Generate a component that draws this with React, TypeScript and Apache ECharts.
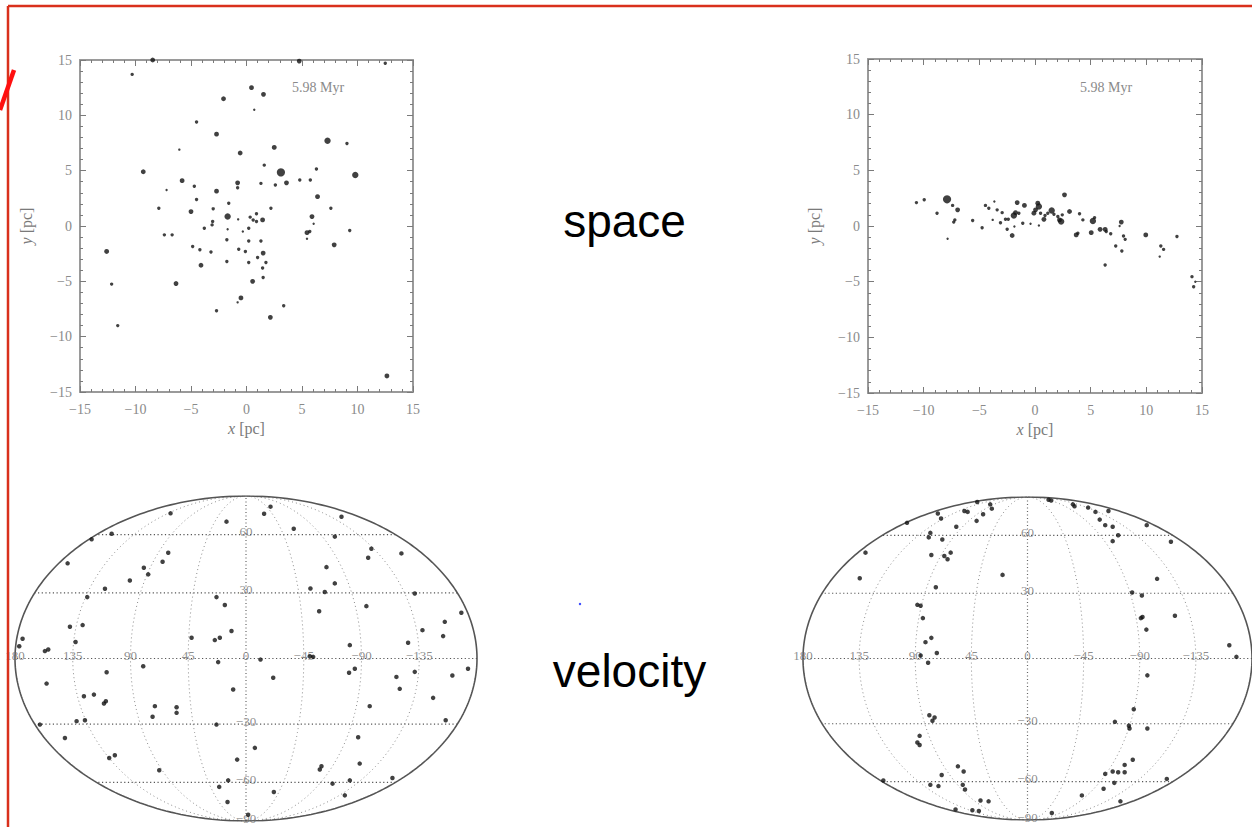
import React, { useEffect, useRef } from "react";
import * as echarts from "echarts";

// Star positions at 5.98 Myr: [x (pc), y (pc), mass class 1..5]
const spaceLeft: number[][] = [
  [-8.45, 15, 3], [4.75, 14.9, 3], [12.5, 14.7, 2], [-10.3, 13.7, 2], [0.45, 12.5, 3], [1.53, 11.9, 3],
  [-2.07, 11.5, 3], [0.7, 10.5, 1], [-4.5, 9.4, 2], [-2.7, 8.3, 3], [7.3, 7.7, 4], [9.05, 7.45, 2],
  [2.5, 7.1, 3], [-6.05, 6.9, 1], [-0.57, 6.6, 3], [1.6, 5.5, 2], [3.1, 4.85, 5], [6.3, 5.15, 2],
  [9.8, 4.6, 4], [-9.3, 4.9, 3], [-5.8, 4.1, 3], [4.8, 4.15, 2], [5.75, 4.15, 2], [3.6, 3.9, 3],
  [2.6, 3.7, 2], [1.3, 3.85, 2], [-0.8, 3.9, 3], [-0.8, 3.45, 2], [-4.7, 3.6, 2], [-7.2, 3.25, 1],
  [-2.7, 3.15, 3], [-4.5, 2.4, 2], [6.4, 2.65, 3], [-1.6, 2.05, 2], [-7.9, 1.6, 2], [2.2, 1.6, 2],
  [7.6, 1.6, 2], [-5.0, 1.3, 3], [-3.0, 1.55, 2], [-1.7, 0.85, 4], [-0.75, 0.6, 1], [0.33, 0.8, 2],
  [0.6, 0.55, 2], [0.9, 1.1, 2], [0.9, 0.4, 2], [1.45, 0.55, 3], [5.9, 0.85, 3], [6.05, 0.2, 1],
  [-3.05, 0.4, 2], [-3.1, 0.1, 2], [-3.8, -0.2, 2], [-1.7, -0.3, 1], [0.2, -0.2, 2], [-0.33, -0.5, 1],
  [-7.4, -0.8, 2], [-6.7, -0.8, 2], [5.45, -0.6, 3], [5.7, -0.5, 2], [5.45, -1.15, 1], [9.3, -0.4, 2],
  [-1.77, -1.25, 2], [0.2, -1.35, 2], [1.3, -1.35, 2], [7.9, -1.7, 3], [-4.85, -1.85, 2], [-4.2, -2.15, 2],
  [-3.2, -2.35, 2], [-0.7, -2.1, 2], [-0.1, -2.3, 2], [-12.6, -2.3, 3], [1.5, -2.45, 3], [1.0, -2.85, 2],
  [1.75, -3.3, 2], [-1.77, -3.2, 2], [0.2, -3.3, 2], [-4.1, -3.55, 3], [1.45, -3.8, 2], [1.5, -4.65, 2],
  [-6.35, -5.2, 3], [0.55, -5.0, 3], [-12.15, -5.25, 2], [-0.5, -6.5, 3], [-0.8, -6.9, 1], [-2.7, -7.65, 2],
  [3.35, -7.2, 2], [2.15, -8.25, 3], [-11.6, -9.0, 2], [12.65, -13.55, 3],
];

const spaceRight: number[][] = [
  [-10.65, 2.1, 2], [-9.95, 2.35, 2], [-8.8, 1.15, 2], [-7.9, 2.4, 5], [-7.4, 1.85, 2], [-6.95, 1.45, 3],
  [-7.2, 0.55, 2], [-7.3, 0.35, 2], [-7.85, -1.15, 1], [-5.6, 0.5, 2], [-4.75, -0.15, 2], [-4.45, 1.85, 2],
  [-4.15, 1.6, 2], [-3.65, 2.2, 1], [-3.8, 0.55, 1], [-3.4, 1.45, 2], [-2.95, 1.2, 2], [-3.1, 0.3, 2],
  [-2.65, 0.6, 2], [-2.4, 0.6, 2], [-2.5, -0.3, 2], [-2.05, -0.85, 3], [-1.9, 0.95, 4], [-1.75, 1.2, 3],
  [-1.6, 2.1, 3], [-1.45, 1.15, 2], [-1.1, 0.25, 2], [-1.85, -0.05, 1], [-0.95, 1.85, 3], [-0.4, 0.2, 1],
  [-0.1, 1.15, 3], [0.25, 2.05, 3], [0.35, 1.75, 4], [0.05, 1.45, 3], [0.5, 1.15, 2], [0.35, 0.05, 1],
  [0.8, 0.6, 3], [0.9, 0.95, 2], [1.15, 1.15, 2], [1.5, 1.4, 4], [1.7, 1.05, 2], [2.05, 0.85, 2],
  [2.2, 0.55, 3], [2.35, 0.4, 4], [2.45, 1.0, 2], [2.65, 2.8, 3], [3.1, 1.3, 3], [4.0, 1.1, 2],
  [3.7, -0.8, 3], [3.85, -0.65, 2], [4.3, 0.55, 2], [5.05, -0.6, 3], [5.2, 0.45, 4], [5.35, 0.75, 2],
  [5.85, -0.3, 3], [6.3, -0.3, 3], [6.4, -0.5, 2], [6.3, -3.5, 2], [6.8, -0.7, 2], [7.25, -1.8, 2],
  [7.8, -2.25, 2], [7.75, 0.35, 3], [7.6, 0.0, 1], [7.95, -0.9, 2], [8.1, -1.2, 2], [9.95, -0.8, 3],
  [11.3, -1.8, 2], [11.55, -2.1, 2], [11.2, -2.75, 1], [12.75, -0.95, 2], [14.1, -4.55, 2],
  [14.25, -5.45, 2], [14.4, -5.0, 1],
];

// Velocity directions on the Mollweide map, read in projected units:
// [horizontal (deg of longitude at the equator, + to the left), vertical (pole = 90)]
const velocityLeft: number[][] = [
  [58.8, 80.4], [-19.1, 84.1], [-14.1, 80.2], [15.2, 75.8], [-74.4, 78.5], [-37.2, 71.9], [104.7, 69.1],
  [120.3, 66.0], [-69.2, 67.5], [60.6, 58.6], [65.0, 53.6], [139.0, 52.7], [-121.1, 58.2], [-97.7, 60.8],
  [-95.2, 55.8], [79.6, 50.3], [76.2, 46.6], [-62.7, 50.6], [90.5, 43.2], [-69.2, 41.6], [109.9, 38.6],
  [-50.2, 38.8], [-61.4, 36.8], [-131.5, 36.0], [123.7, 34.0], [23.0, 34.0], [16.5, 29.6], [-93.8, 29.0],
  [-57.0, 26.2], [-167.8, 25.3], [127.3, 18.5], [137.2, 17.6], [-154.9, 20.3], [-137.5, 15.7], [11.3, 15.2],
  [20.4, 11.5], [24.3, 10.2], [42.4, 11.5], [-153.6, 12.4], [174.1, 10.9], [176.7, 6.8], [132.8, 9.1],
  [-126.3, 8.7], [-80.9, 7.4], [156.7, 4.1], [154.1, 5.0], [-49.7, 1.3], [-52.3, 0.9], [21.7, -2.0],
  [-11.3, -0.6], [80.1, -4.3], [-84.8, -5.7], [-80.3, -7.9], [-173.0, -5.7], [-131.5, -7.4], [108.6, -7.6],
  [-160.8, -9.4], [-117.2, -10.2], [-21.2, -10.7], [155.4, -13.9], [10.0, -17.2], [-119.8, -16.8],
  [118.5, -20.0], [126.3, -20.9], [-145.8, -21.8], [109.2, -23.7], [110.7, -24.9], [-96.4, -26.4],
  [71.0, -26.4], [54.1, -27.0], [54.1, -30.1], [72.8, -32.3], [23.0, -36.6], [125.5, -34.2], [132.0, -34.7],
  [160.6, -36.6], [-155.6, -34.2], [-87.4, -43.6], [141.1, -44.0], [-6.9, -49.5], [102.2, -53.6],
  [106.6, -55.1], [6.9, -56.0], [-58.8, -59.7], [-57.5, -61.5], [-88.6, -58.2], [67.6, -61.9], [13.9, -67.5],
  [-114.1, -66.2], [-80.9, -67.5], [-67.4, -69.3], [20.9, -71.1], [-21.7, -73.9], [-77.0, -75.8],
  [14.4, -79.5], [-1.7, -86.5],
];

const velocityRight: number[][] = [
  [-16.9, 88.5], [-19.0, 88.0], [-36.4, 85.9], [-37.7, 84.8], [-48.6, 84.1], [-54.5, 81.7], [-64.9, 82.2],
  [-57.9, 77.4], [-62.3, 74.3], [-68.3, 73.4], [-72.7, 68.7], [-68.3, 65.4], [-95.6, 74.3], [-115.0, 65.1],
  [-103.9, 44.4], [-83.9, 36.8], [-91.7, 35.1], [-92.2, 23.1], [-90.9, 22.5], [-118.2, 23.8], [-95.3, 16.1],
  [-161.8, 7.4], [-167.5, 0.9], [-96.1, -9.4], [-85.2, -28.3], [-70.1, -35.3], [-81.3, -37.5], [-81.8, -39.0],
  [-96.1, -39.0], [-84.4, -56.4], [-77.9, -59.3], [-77.9, -63.4], [-72.7, -63.4], [-68.3, -63.0],
  [-62.3, -64.3], [-69.6, -69.3], [-61.0, -72.6], [-111.7, -67.1], [-43.6, -76.3], [-74.5, -79.6],
  [-19.5, -86.1], [40.3, 87.2], [29.9, 85.9], [28.6, 83.5], [50.6, 82.2], [48.0, 81.7], [35.6, 80.4],
  [71.9, 80.8], [69.3, 78.0], [40.8, 76.7], [57.1, 73.4], [96.6, 75.6], [77.9, 70.0], [79.2, 67.5],
  [68.3, 66.3], [129.9, 59.0], [77.1, 57.7], [61.6, 59.0], [66.7, 57.1], [64.1, 55.3], [20.0, 46.6],
  [134.5, 44.7], [73.5, 39.7], [88.3, 29.9], [85.7, 29.4], [83.9, 22.5], [77.1, 11.5], [81.8, 9.1],
  [72.7, 3.1], [85.7, 1.7], [79.7, -2.4], [78.7, -31.6], [74.5, -32.9], [76.2, -34.7], [86.5, -43.1],
  [88.3, -46.8], [86.5, -48.2], [55.8, -60.1], [51.2, -63.0], [68.8, -64.9], [115.6, -68.0], [77.9, -70.4],
  [71.4, -71.1], [51.9, -70.4], [50.1, -73.0], [37.7, -79.1], [31.2, -79.6], [57.7, -84.1], [44.2, -84.6],
  [39.0, -85.0],
];

const lonLabels = [180, 135, 90, 45, 0, -45, -90, -135];
const latLabels = [60, 30, -30, -60, -90];
const meridianLons = [135, 90, 45, -45, -90, -135];
const parallelLats = [60, 30, 0, -30, -60];
const epochText = "5.98 Myr";
const topWord = "space";
const bottomWord = "velocity";

// ---------- helpers ----------
const SERIF = "'Liberation Serif', 'DejaVu Serif', serif";
const SANS = "'Liberation Sans', Arial, sans-serif";
const GREY = "#8a8a8a";
const minus = (v: number) => (v < 0 ? "\u2212" + String(-v) : String(v));

function mollTheta(latDeg: number): number {
  if (Math.abs(latDeg) >= 90) return (Math.sign(latDeg) * Math.PI) / 2;
  const phi = (latDeg * Math.PI) / 180;
  let t = phi;
  for (let i = 0; i < 60; i++) {
    const f = 2 * t + Math.sin(2 * t) - Math.PI * Math.sin(phi);
    const d = 2 + 2 * Math.cos(2 * t);
    if (Math.abs(d) < 1e-12) break;
    t -= f / d;
    if (Math.abs(f) < 1e-12) break;
  }
  return t;
}
function project(lon: number, lat: number): number[] {
  const t = mollTheta(lat);
  return [lon * Math.cos(t), 90 * Math.sin(t)];
}
const sizeOf = (c: number) => [0, 2.4, 3.4, 4.8, 6.4, 8.2][c] || 3;

function spaceAxes(grid: number) {
  const common = {
    gridIndex: grid,
    type: "value",
    min: -15,
    max: 15,
    interval: 5,
    splitLine: { show: false },
    axisLine: { show: true, onZero: false, lineStyle: { color: "#9a9a9a", width: 2 } },
    axisTick: { show: true, inside: true, length: 6, lineStyle: { color: "#7a7a7a", width: 1 } },
    minorTick: { show: true, splitNumber: 5, length: 3, lineStyle: { color: "#7a7a7a", width: 1 } },
  };
  const lbl = { color: GREY, fontFamily: SERIF, fontSize: 14, formatter: minus };
  const nameStyle = {
    color: "#7a7a7a",
    fontFamily: SERIF,
    fontSize: 16,
    rich: { it: { fontStyle: "italic", color: "#7a7a7a", fontFamily: SERIF, fontSize: 16 } },
  };
  const xAxes = [
    { ...common, position: "bottom", axisLabel: { ...lbl, margin: 10 }, name: "{it|x} [pc]", nameLocation: "middle", nameGap: 28, nameTextStyle: nameStyle },
    { ...common, position: "top", axisLabel: { show: false } },
  ];
  const yAxes = [
    { ...common, position: "left", axisLabel: { ...lbl, margin: 8 }, name: "{it|y} [pc]", nameLocation: "middle", nameGap: 46, nameTextStyle: nameStyle },
    { ...common, position: "right", axisLabel: { show: false } },
  ];
  return { xAxes, yAxes };
}

function mapSeries(xi: number, yi: number, points: number[][]) {
  const out: any[] = [];
  const line = (data: number[][], style: any) => ({
    type: "line",
    xAxisIndex: xi,
    yAxisIndex: yi,
    data,
    showSymbol: false,
    symbol: "none",
    silent: true,
    lineStyle: style,
    z: 1,
  });
  const lats: number[] = [];
  for (let l = -90; l <= 90; l += 1) lats.push(l);
  meridianLons.forEach((lon) =>
    out.push(line(lats.map((la) => project(lon, la)), { color: "#8c8c8c", width: 1, type: [1, 3] }))
  );
  out.push(line(lats.map((la) => project(0, la)), { color: "#666", width: 1.2, type: [1, 2.5] }));
  parallelLats.forEach((lat) =>
    out.push(line([project(-180, lat), project(180, lat)], { color: "#555", width: 1.2, type: [1.2, 2.5] }))
  );
  [180, -180].forEach((lon) =>
    out.push(line(lats.map((la) => project(lon, la)), { color: "#555", width: 1.6 }))
  );
  const labelData = [
    ...lonLabels.map((lon) => ({ value: project(lon, 0), name: minus(lon) })),
    ...latLabels.map((lat) => ({ value: project(0, lat), name: minus(lat) })),
  ];
  out.push({
    type: "scatter",
    xAxisIndex: xi,
    yAxisIndex: yi,
    data: labelData,
    symbolSize: 0.1,
    silent: true,
    clip: false,
    itemStyle: { color: "rgba(0,0,0,0)" },
    label: {
      show: true,
      position: "inside",
      offset: [0, -3],
      formatter: "{b}",
      color: "#6f6f6f",
      fontFamily: SERIF,
      fontSize: 13,
    },
    z: 2,
  });
  out.push({
    type: "scatter",
    xAxisIndex: xi,
    yAxisIndex: yi,
    data: points,
    symbolSize: 4.5,
    clip: false,
    itemStyle: { color: "#111" },
    z: 3,
  });
  return out;
}

export default function App() {
  const ref = useRef<HTMLDivElement>(null);
  useEffect(() => {
    if (!ref.current) return;
    const chart = echarts.init(ref.current, undefined, { renderer: "svg" });
    const a0 = spaceAxes(0);
    const a1 = spaceAxes(1);
    const mapX = (g: number) => ({ gridIndex: g, type: "value", min: -180, max: 180, inverse: true, show: false });
    const mapY = (g: number) => ({ gridIndex: g, type: "value", min: -90, max: 90, show: false });
    const xAxis = [...a0.xAxes, ...a1.xAxes, mapX(2), mapX(3)];
    const yAxis = [...a0.yAxes, ...a1.yAxes, mapY(2), mapY(3)];
    const spaceScatter = (xi: number, yi: number, data: number[][]) => ({
      type: "scatter",
      xAxisIndex: xi,
      yAxisIndex: yi,
      data,
      symbolSize: (v: number[]) => sizeOf(v[2]),
      itemStyle: { color: "#111" },
      z: 3,
    });
    const option: any = {
      animation: false,
      backgroundColor: "#ffffff",
      grid: [
        { left: 80, top: 60, width: 333, height: 332 },
        { left: 868, top: 59, width: 334, height: 334 },
        { left: 15, top: 496, width: 462, height: 325 },
        { left: 803, top: 497, width: 464, height: 323 },
      ],
      xAxis,
      yAxis,
      series: [
        spaceScatter(0, 0, spaceLeft),
        spaceScatter(2, 2, spaceRight),
        ...mapSeries(4, 4, velocityLeft),
        ...mapSeries(5, 5, velocityRight),
      ],
      graphic: [
        { type: "text", left: 292, top: 80, style: { text: epochText, fill: GREY, font: `14px ${SERIF}` } },
        { type: "text", left: 1080, top: 80, style: { text: epochText, fill: GREY, font: `14px ${SERIF}` } },
        { type: "text", x: 624.5, y: 221, style: { text: topWord, fill: "#000", font: `46px ${SANS}`, align: "center", verticalAlign: "middle" } },
        { type: "text", x: 629.5, y: 671, style: { text: bottomWord, fill: "#000", font: `46px ${SANS}`, align: "center", verticalAlign: "middle" } },
        { type: "circle", shape: { cx: 580, cy: 604, r: 1.2 }, style: { fill: "#3344ff" } },
        { type: "line", z: 100, shape: { x1: 8, y1: 6, x2: 8, y2: 827 }, style: { stroke: "#d9301c", lineWidth: 2.5 } },
        { type: "line", z: 100, shape: { x1: 8, y1: 6, x2: 1252, y2: 6 }, style: { stroke: "#d9301c", lineWidth: 2.5 } },
        { type: "line", z: 100, shape: { x1: 0, y1: 110, x2: 14, y2: 70 }, style: { stroke: "#ff1010", lineWidth: 4.5 } },
      ],
    };
    chart.setOption(option);
    return () => chart.dispose();
  }, []);
  return (
    <div
      ref={ref}
      style={{ position: "fixed", left: 0, top: 0, width: 1252, height: 827, background: "#fff" }}
    />
  );
}
